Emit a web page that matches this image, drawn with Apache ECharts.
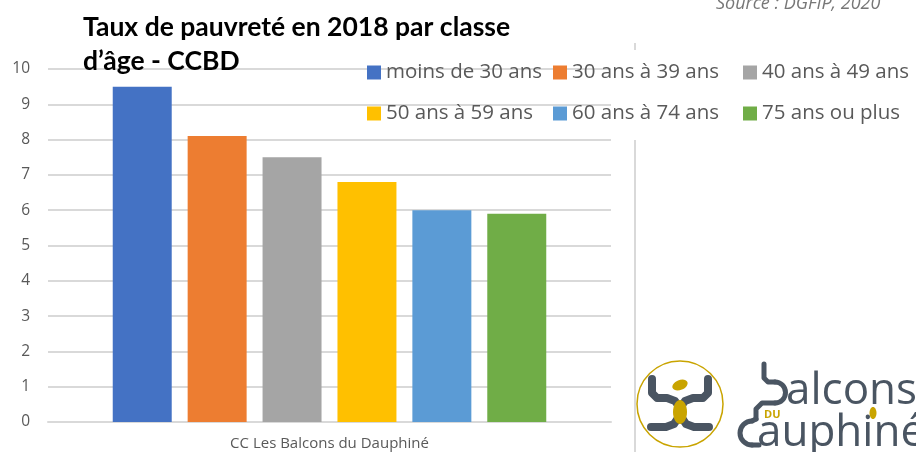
<!DOCTYPE html>
<html>
<head>
<meta charset="utf-8">
<script src="https://cdn.jsdelivr.net/npm/echarts@6/dist/echarts.min.js"></script>
<style>
  html, body { margin: 0; padding: 0; background: #fff; }
  #chart { width: 916px; height: 452px; }
</style>
</head>
<body>
<div id="chart"></div>
<script>
// données
const categories = ['CC Les Balcons du Dauphiné']
const ageClasses = ['moins de 30 ans', '30 ans à 39 ans', '40 ans à 49 ans', '50 ans à 59 ans', '60 ans à 74 ans', '75 ans ou plus']
const rates = [9.5, 8.1, 7.5, 6.8, 6.0, 5.9]
const colors = ['#4472c4', '#ed7d31', '#a5a5a5', '#ffc000', '#5b9bd5', '#70ad47']

const series = ageClasses.map((name, i) => ({
  name: name,
  type: 'bar',
  barGap: '27%',
  barCategoryGap: '23%',
  itemStyle: { color: colors[i] },
  data: [rates[i]]
}))

// une légende par élément, placée comme dans l'original (3 colonnes, 2 lignes)
const legendLeft = [367, 553, 743]
const legendTop = [62, 103]
const legends = ageClasses.map((name, i) => ({
  left: legendLeft[i % 3],
  top: legendTop[Math.floor(i / 3)],
  padding: 0,
  itemWidth: 14,
  itemHeight: 14,
  itemGap: 0,
  icon: 'rect',
  textStyle: { fontSize: 20.5, color: '#595959' },
  data: [name]
}))

const dark = '#4a5562'
const gold = '#c9a400'
const stroke = { fill: 'none', stroke: dark, lineWidth: 8, lineCap: 'round', lineJoin: 'round' }
const thin = { fill: 'none', stroke: dark, lineWidth: 5, lineCap: 'round', lineJoin: 'round' }

const option = {
  animation: false,
  textStyle: { fontFamily: 'Open Sans' },
  title: {
    text: 'Taux de pauvreté en 2018 par classe\nd’âge - CCBD',
    left: 78,
    top: 5,
    textStyle: { fontFamily: 'Lato', fontWeight: 'bold', fontSize: 26.5, color: '#000', lineHeight: 34 }
  },
  legend: legends,
  grid: { left: 48, right: 305, top: 69, bottom: 30 },
  xAxis: {
    type: 'category',
    data: categories,
    axisLine: { lineStyle: { color: '#d9d9d9', width: 2 } },
    axisTick: { show: false },
    axisLabel: { color: '#595959', fontSize: 15, margin: 14 }
  },
  yAxis: {
    type: 'value',
    min: 0,
    max: 10,
    interval: 1,
    axisLine: { show: false },
    axisTick: { show: false },
    splitLine: { lineStyle: { color: '#d9d9d9', width: 2 } },
    axisLabel: { color: '#595959', fontSize: 15.5, margin: 18 }
  },
  graphic: [
    { type: 'text', left: 716, top: -5, style: { text: 'Source : DGFIP, 2020', fontSize: 18, fontStyle: 'italic', fill: '#777', fontFamily: 'Open Sans' } },
    { type: 'line', shape: { x1: 635, y1: 43, x2: 635, y2: 50 }, style: { stroke: '#d9d9d9', lineWidth: 2 } },
    { type: 'line', shape: { x1: 635, y1: 140, x2: 635, y2: 452 }, style: { stroke: '#d9d9d9', lineWidth: 2 } },
    // logo : cercle et pictogramme
    { type: 'circle', shape: { cx: 680, cy: 404, r: 43 }, style: { fill: 'none', stroke: gold, lineWidth: 1.5 } },
    { type: 'polyline', shape: { points: [[652, 379], [652, 393], [657, 398], [667, 398], [675, 401], [680, 408], [685, 401], [693, 398], [703, 398], [708, 393], [708, 379]] }, style: stroke },
    { type: 'polyline', shape: { points: [[651, 427], [666, 427], [674, 424], [680, 415], [686, 424], [694, 427], [709, 427]] }, style: stroke },
    { type: 'ellipse', shape: { cx: 680, cy: 412, rx: 7, ry: 12 }, style: { fill: gold } },
    { type: 'ellipse', shape: { cx: 680, cy: 385, rx: 8, ry: 5 }, rotation: 0.4, originX: 680, originY: 385, style: { fill: gold } },
    // logo : lettres stylisées b et d
    { type: 'polyline', shape: { points: [[764, 364], [764, 378], [768, 382], [775, 382]] }, style: thin },
    { type: 'arc', shape: { cx: 775, cy: 392.5, r: 10.5, startAngle: -Math.PI / 2, endAngle: Math.PI / 2, clockwise: true }, style: thin },
    { type: 'polyline', shape: { points: [[775, 403], [762, 403], [756, 409], [756, 419]] }, style: thin },
    { type: 'arc', shape: { cx: 752, cy: 433, r: 12, startAngle: Math.PI / 2, endAngle: Math.PI * 1.5, clockwise: true }, style: thin },
    { type: 'polyline', shape: { points: [[752, 421], [756, 419]] }, style: thin },
    { type: 'polyline', shape: { points: [[752, 445], [759, 445]] }, style: thin },
    { type: 'text', left: 786, top: 369, style: { text: 'alcons', fontSize: 44, fill: dark, fontFamily: 'Open Sans' } },
    { type: 'text', left: 764, top: 409, style: { text: 'DU', fontSize: 11, fill: gold, fontWeight: 'bold', fontFamily: 'Open Sans' } },
    { type: 'text', left: 757, top: 411, style: { text: 'auphiné', fontSize: 44, fill: dark, fontFamily: 'Open Sans' } },
    { type: 'ellipse', shape: { cx: 873, cy: 413, rx: 3.5, ry: 6 }, style: { fill: gold } }
  ],
  series: series
}

const myChart = echarts.init(document.getElementById('chart'))
myChart.setOption(option)
</script>
</body>
</html>
